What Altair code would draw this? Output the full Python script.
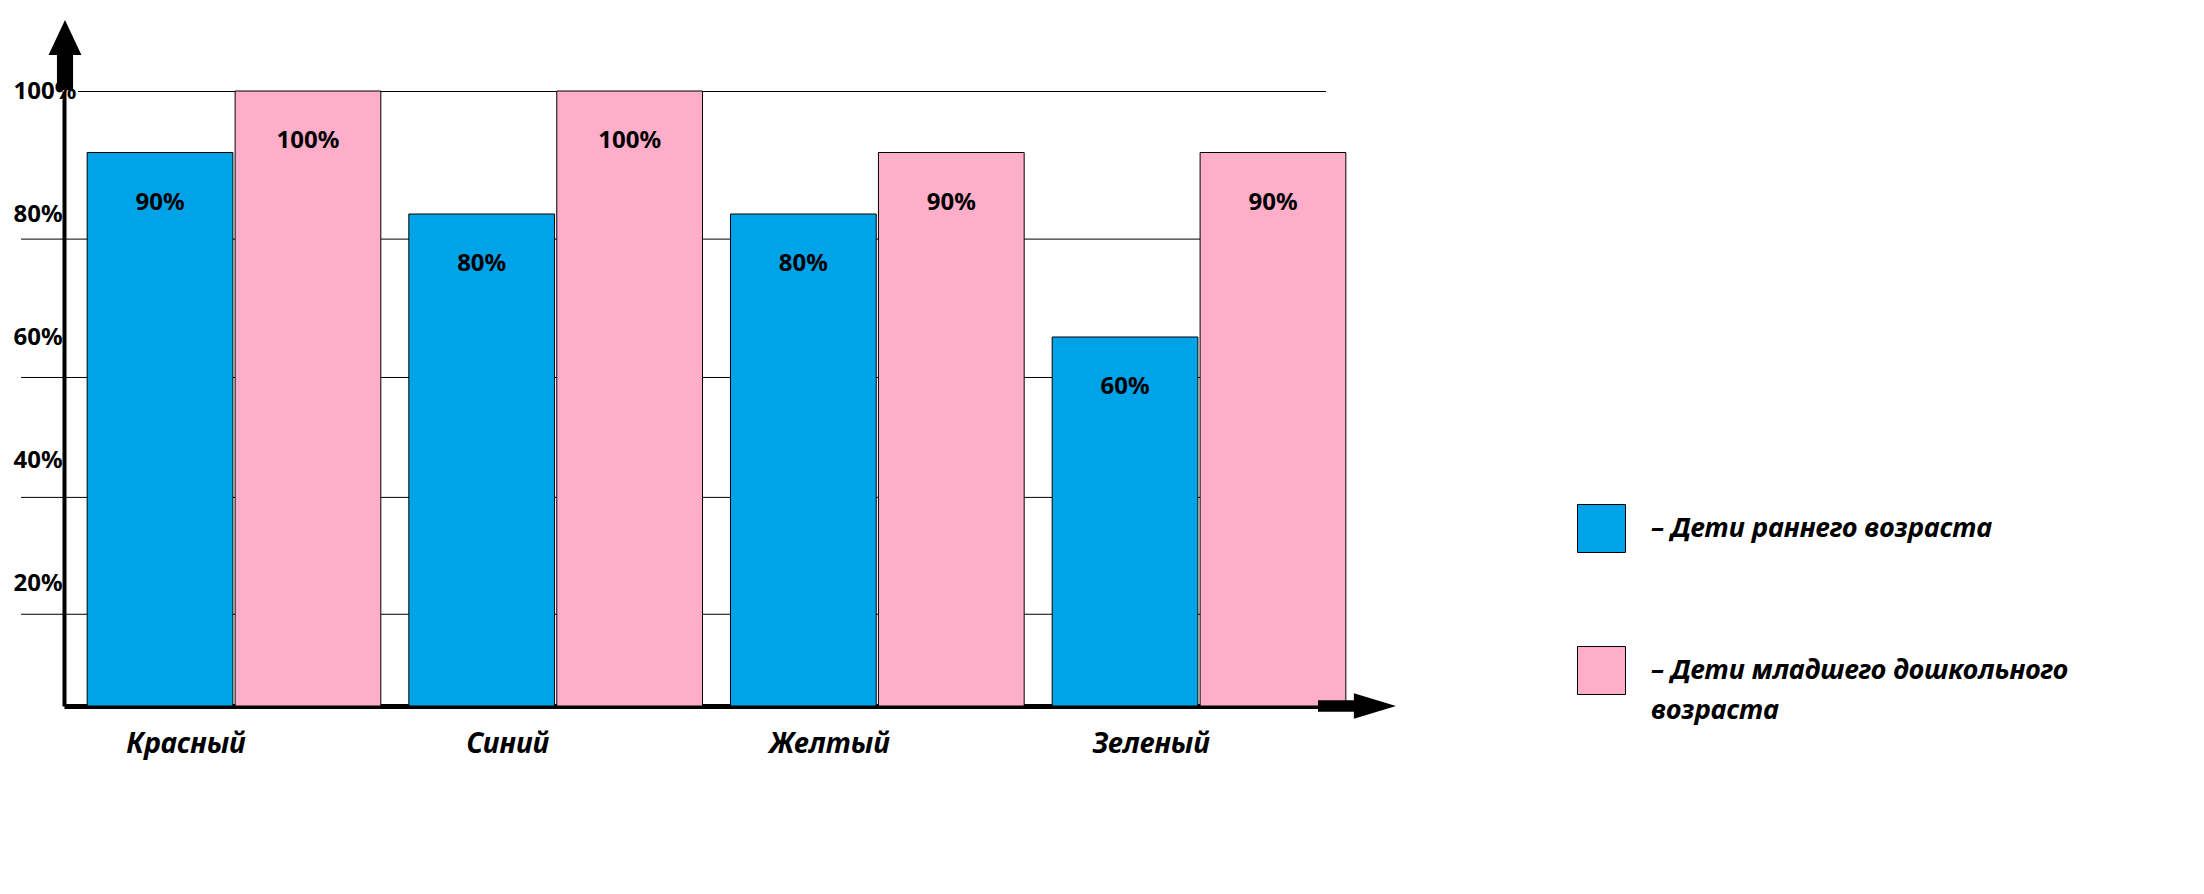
import altair as alt
import pandas as pd

categories = ["Красный", "Синий", "Желтый", "Зеленый"]
series = ["Дети раннего возраста", "Дети младшего дошкольного возраста"]
early = [90, 80, 80, 60]
junior = [100, 100, 90, 90]
y_ticks = [20, 40, 60, 80, 100]
# hand-drawn gridlines (in % units)
grid_top = [100]
grid_lower = [76, 53.5, 34, 15]
colors = ["#00A2E8", "#FFAEC9"]

rows = []
for c, a, b in zip(categories, early, junior):
    rows.append({"cat": c, "group": series[0], "value": a, "label": f"{a}%"})
    rows.append({"cat": c, "group": series[1], "value": b, "label": f"{b}%"})
df = pd.DataFrame(rows)
top_df = pd.DataFrame({"value": grid_top})
lower_df = pd.DataFrame({"value": grid_lower})
one = pd.DataFrame({"k": [0]})

W, H = 1305, 615
FONT = "Noto Sans"

head, tail = series[1].rsplit(" ", 1)
legend_expr = (
    f"datum.label == '{series[1]}' ? ['– {head}', '{tail}'] : '– ' + datum.label"
)

yscale = alt.Scale(domain=[0, 100], nice=False)
y_axis = alt.Axis(
    title=None, values=y_ticks, labelExpr="datum.value + '%'", grid=False,
    ticks=False, domainColor="black", domainWidth=4, labelAlign="left",
    labelPadding=51, labelFont=FONT, labelFontWeight="bold", labelFontSize=24,
    labelColor="black", labelBaseline="middle",
)
x_enc = alt.X(
    "cat:N",
    sort=categories,
    scale=alt.Scale(paddingInner=0.087, paddingOuter=0.072),
    axis=alt.Axis(
        title=None, labelAngle=0, ticks=False, domainColor="black", domainWidth=5,
        labelFont=FONT, labelFontStyle="italic", labelFontWeight="bold",
        labelFontSize=28, labelColor="black", labelPadding=24, labelOffset=-48,
    ),
)
y_enc = alt.Y("value:Q", scale=yscale, axis=y_axis)
xoff = alt.XOffset("group:N", sort=series, scale=alt.Scale(paddingInner=0.015))

grid1 = alt.Chart(top_df).mark_rule(color="black", strokeWidth=1, yOffset=0.5).encode(
    y=y_enc, x=alt.value(14), x2=alt.value(1262),
)
grid2 = alt.Chart(lower_df).mark_rule(color="black", strokeWidth=1, yOffset=0.5).encode(
    y=y_enc, x=alt.value(-43), x2=alt.value(1275),
)

bars = alt.Chart(df).mark_bar(stroke="black", strokeWidth=1, opacity=1).encode(
    x=x_enc,
    xOffset=xoff,
    y=y_enc,
    color=alt.Color(
        "group:N",
        sort=series,
        scale=alt.Scale(domain=series, range=colors),
        legend=alt.Legend(
            title=None, orient="none", legendX=1513, legendY=413,
            symbolType="square", symbolSize=2304, symbolStrokeColor="black",
            symbolStrokeWidth=1, symbolOpacity=1, rowPadding=89, labelOffset=25,
            labelFont=FONT, labelFontStyle="italic", labelFontWeight="bold",
            labelFontSize=27, labelColor="black", labelLimit=1000,
            labelExpr=legend_expr,
        ),
    ),
)

labels = alt.Chart(df).mark_text(
    font=FONT, fontSize=24, fontWeight="bold", color="black",
    align="center", baseline="middle", dy=50,
).encode(
    x=alt.X("cat:N", sort=categories),
    xOffset=xoff,
    y=y_enc,
    text="label:N",
)

y_arrow_path = "M0,-1L0.47,0L0.23,0L0.23,1L-0.23,1L-0.23,0L-0.47,0Z"
x_arrow_path = "M1,0L-0.08,-0.33L-0.08,-0.15L-1,-0.15L-1,0.15L-0.08,0.15L-0.08,0.33Z"

y_arrow = alt.Chart(one).mark_point(
    shape=y_arrow_path, size=4900, filled=True, fill="black", opacity=1, strokeWidth=0
).encode(x=alt.value(1), y=alt.value(-36))

x_arrow = alt.Chart(one).mark_point(
    shape=x_arrow_path, size=6084, filled=True, fill="black", opacity=1, strokeWidth=0
).encode(x=alt.value(1293), y=alt.value(H))

chart = (
    alt.layer(grid1, grid2, bars, labels, y_arrow, x_arrow)
    .properties(
        width=W, height=H,
        padding={"left": 56, "top": 83, "right": 736, "bottom": 100},
        autosize=alt.AutoSizeParams(type="none"),
        background="white",
    )
    .configure(style={"guide-label": {"lineHeight": 40}})
    .configure_view(stroke=None)
)

chart.save("out.html", embed_options={"renderer": "svg", "actions": False})
